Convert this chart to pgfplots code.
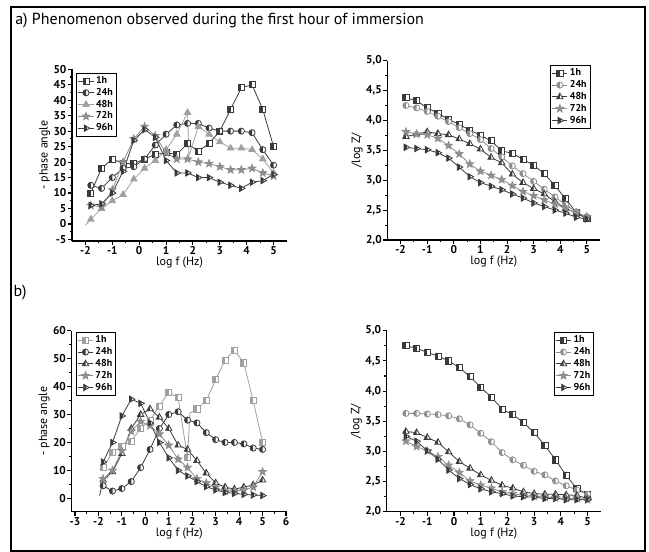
\documentclass[border=0pt]{standalone}
\usepackage{fontspec}
\setmainfont{PT Sans}
\usepackage{pgfplots}
\pgfplotsset{compat=1.18}
\definecolor{dk}{HTML}{3A3A3A}
\definecolor{gr}{HTML}{8E8E8E}
\definecolor{lg}{HTML}{A0A0A0}

\pgfdeclareplotmark{hsquare}{%
  \pgfpathrectangle{\pgfqpoint{-\pgfplotmarksize}{-\pgfplotmarksize}}{\pgfqpoint{2\pgfplotmarksize}{2\pgfplotmarksize}}%
  \pgfusepathqfill
  \begin{pgfscope}\pgfsetfillcolor{.}%
  \pgfpathrectangle{\pgfqpoint{-\pgfplotmarksize}{-\pgfplotmarksize}}{\pgfqpoint{\pgfplotmarksize}{2\pgfplotmarksize}}%
  \pgfusepathqfill\end{pgfscope}%
  \pgfpathrectangle{\pgfqpoint{-\pgfplotmarksize}{-\pgfplotmarksize}}{\pgfqpoint{2\pgfplotmarksize}{2\pgfplotmarksize}}%
  \pgfusepathqstroke}
\pgfdeclareplotmark{hcircle}{%
  \pgfpathcircle{\pgfpointorigin}{\pgfplotmarksize}\pgfusepathqfill
  \begin{pgfscope}\pgfsetfillcolor{.}%
  \pgfpathmoveto{\pgfqpoint{0pt}{\pgfplotmarksize}}\pgfpatharc{90}{270}{\pgfplotmarksize}\pgfpathclose
  \pgfusepathqfill\end{pgfscope}%
  \pgfpathcircle{\pgfpointorigin}{\pgfplotmarksize}\pgfusepathqstroke}
\pgfdeclareplotmark{htri}{%
  \pgfpathmoveto{\pgfpointpolar{90}{1.2\pgfplotmarksize}}%
  \pgfpathlineto{\pgfpointpolar{210}{1.2\pgfplotmarksize}}%
  \pgfpathlineto{\pgfpointpolar{330}{1.2\pgfplotmarksize}}\pgfpathclose
  \pgfusepathqfill
  \begin{pgfscope}\pgfsetfillcolor{.}%
  \pgfpathmoveto{\pgfpointpolar{90}{1.2\pgfplotmarksize}}%
  \pgfpathlineto{\pgfpointpolar{210}{1.2\pgfplotmarksize}}%
  \pgfpathlineto{\pgfpoint{0pt}{-0.6\pgfplotmarksize}}\pgfpathclose
  \pgfusepathqfill\end{pgfscope}%
  \pgfpathmoveto{\pgfpointpolar{90}{1.2\pgfplotmarksize}}%
  \pgfpathlineto{\pgfpointpolar{210}{1.2\pgfplotmarksize}}%
  \pgfpathlineto{\pgfpointpolar{330}{1.2\pgfplotmarksize}}\pgfpathclose
  \pgfusepathqstroke}
\pgfdeclareplotmark{hrtri}{%
  \pgfpathmoveto{\pgfpointpolar{0}{1.2\pgfplotmarksize}}%
  \pgfpathlineto{\pgfpointpolar{120}{1.2\pgfplotmarksize}}%
  \pgfpathlineto{\pgfpointpolar{240}{1.2\pgfplotmarksize}}\pgfpathclose
  \pgfusepathqfill
  \begin{pgfscope}\pgfsetfillcolor{.}%
  \pgfpathmoveto{\pgfpointpolar{120}{1.2\pgfplotmarksize}}%
  \pgfpathlineto{\pgfpoint{0.3\pgfplotmarksize}{0.52\pgfplotmarksize}}%
  \pgfpathlineto{\pgfpoint{0.3\pgfplotmarksize}{-0.52\pgfplotmarksize}}%
  \pgfpathlineto{\pgfpointpolar{240}{1.2\pgfplotmarksize}}\pgfpathclose
  \pgfusepathqfill\end{pgfscope}%
  \pgfpathmoveto{\pgfpointpolar{0}{1.2\pgfplotmarksize}}%
  \pgfpathlineto{\pgfpointpolar{120}{1.2\pgfplotmarksize}}%
  \pgfpathlineto{\pgfpointpolar{240}{1.2\pgfplotmarksize}}\pgfpathclose
  \pgfusepathqstroke}
\pgfdeclareplotmark{fstar}{%
  \pgfpathmoveto{\pgfpointpolar{90}{1.3\pgfplotmarksize}}%
  \pgfpathlineto{\pgfpointpolar{126}{0.55\pgfplotmarksize}}%
  \pgfpathlineto{\pgfpointpolar{162}{1.3\pgfplotmarksize}}%
  \pgfpathlineto{\pgfpointpolar{198}{0.55\pgfplotmarksize}}%
  \pgfpathlineto{\pgfpointpolar{234}{1.3\pgfplotmarksize}}%
  \pgfpathlineto{\pgfpointpolar{270}{0.55\pgfplotmarksize}}%
  \pgfpathlineto{\pgfpointpolar{306}{1.3\pgfplotmarksize}}%
  \pgfpathlineto{\pgfpointpolar{342}{0.55\pgfplotmarksize}}%
  \pgfpathlineto{\pgfpointpolar{18}{1.3\pgfplotmarksize}}%
  \pgfpathlineto{\pgfpointpolar{54}{0.55\pgfplotmarksize}}\pgfpathclose
  \pgfusepathqfillstroke}

\pgfplotsset{
  myax/.style={
    scale only axis,
    axis lines=left,
    axis line style={-, line width=1pt, black},
    tick align=outside,
    major tick length=3pt, minor tick length=1.8pt,
    tick style={line width=0.8pt, black},
    minor tick num=1,
    /pgf/number format/assume math mode=true,
    ticklabel style={font=\bfseries\fontsize{8.5}{9}\selectfont, inner sep=1pt},
    label style={font=\fontsize{9}{10}\selectfont},
    xlabel={log f (Hz)},
    xlabel style={yshift=3pt},
    ylabel style={yshift=-2pt},
    every axis plot/.append style={line width=0.6pt, mark size=2.3pt},
    legend cell align=left,
    legend style={draw=black, line width=0.6pt, fill=white,
      font=\bfseries\fontsize{7.5}{8}\selectfont, inner sep=1pt, row sep=-1pt,
      nodes={inner sep=1.5pt}},
    legend image code/.code={\draw[##1, mark indices={2}] plot coordinates {(0cm,0cm) (0.2cm,0cm) (0.4cm,0cm)};},
  },
  sq/.style={color=#1, mark=hsquare, mark options={fill=white, solid}},
  ci/.style={color=#1, mark=hcircle, mark options={fill=white, solid}},
  tr/.style={color=#1, mark=htri, mark options={fill=white, solid}},
  rt/.style={color=#1, mark=hrtri, mark options={fill=white, solid}},
  st/.style={color=#1, mark=fstar, mark options={fill=#1, solid}},
  zlabels/.style={yticklabel style={/pgf/number format/.cd, use comma, fixed, fixed zerofill, precision=1}},
}

\begin{document}
\begin{tikzpicture}
\path[use as bounding box] (0,0) rectangle (486.75pt,414pt);
\draw[line width=1.5pt] (8.25pt,408.75pt) rectangle (483.75pt,0.75pt);
\node[anchor=base west, inner sep=0, font=\fontsize{12}{14}\selectfont] at (11.25pt,395.25pt) {a) Phenomenon observed during the first hour of immersion};
\node[anchor=base west, inner sep=0, font=\fontsize{12}{14}\selectfont] at (10pt,191.25pt) {b)};

% ---------- a) phase ----------
\begin{axis}[myax, at={(54pt,233.25pt)}, anchor=south west,
  width=161.25pt, height=128.8pt,
  xmin=-2.5, xmax=5.5, ymin=-5.5, ymax=50,
  xtick={-2,...,5}, ytick={-5,0,...,50},
  ylabel={- phase angle},
  legend style={at={(0.02,0.98)}, anchor=north west}]
\addplot[sq=dk] coordinates {(-1.8,10)(-1.4,18)(-1.0,21)(-0.6,19.5)(-0.2,19.5)(0.2,21)(0.6,22.5)(1.0,23)(1.4,22.5)(1.8,26)(2.2,23.5)(2.6,26)(3.0,30)(3.4,37)(3.8,44)(4.2,45)(4.6,37)(5.0,25)};
\addlegendentry{1h}
\addplot[ci=dk] coordinates {(-1.8,12.5)(-1.4,11.5)(-1.0,15)(-0.6,18)(-0.2,18.5)(0.2,21)(0.6,25.5)(1.0,29)(1.4,32)(1.8,32.5)(2.2,32.5)(2.6,31)(3.0,30)(3.4,30)(3.8,30)(4.2,29.5)(4.6,24)(5.0,19)};
\addlegendentry{24h}
\addplot[color=lg, mark=triangle*, mark size=2.8pt, mark options={fill=lg, solid}, mark indices={2,3,4,5,6,7,8,9,10,11,13,14,15,16,17,18,19,20}] coordinates {(-2,-0.4)(-1.8,1.5)(-1.4,5)(-1.0,7.5)(-0.6,9.5)(-0.2,14.5)(0.2,18)(0.6,20.5)(1.0,24)(1.4,29)(1.8,36)(1.85,22)(2.2,31.5)(2.6,29)(3.0,26.5)(3.4,24.5)(3.8,24.5)(4.2,24)(4.6,21)(5.0,16.5)};
\addlegendentry{48h}
\addplot[st=gr] coordinates {(-1.8,6)(-1.4,5.5)(-1.0,11)(-0.6,20)(-0.2,27.5)(0.2,31.5)(0.6,28.5)(1.0,23)(1.4,21)(1.8,21)(2.2,20)(2.6,19.5)(3.0,18.5)(3.4,17.5)(3.8,17.5)(4.2,18)(4.6,16.5)(5.0,15.5)};
\addlegendentry{72h}
\addplot[rt=dk] coordinates {(-1.8,6)(-1.4,6.5)(-1.0,10)(-0.6,17)(-0.2,27)(0.2,30.5)(0.6,28)(1.0,20.5)(1.4,16.5)(1.8,16.5)(2.2,15)(2.6,15)(3.0,13.5)(3.4,12.5)(3.8,11.5)(4.2,13.5)(4.6,14)(5.0,16)};
\addlegendentry{96h}
\end{axis}

% ---------- a) log Z ----------
\begin{axis}[myax, zlabels, at={(290.5pt,234pt)}, anchor=south west,
  width=159.6pt, height=134.5pt,
  xmin=-2.5, xmax=5.5, ymin=2, ymax=5,
  xtick={-2,...,5}, ytick={2,2.5,...,5},
  ylabel={/log Z/},
  legend style={at={(0.765,0.976)}, anchor=north west}]
\addplot[sq=dk] coordinates {(-1.8,4.38)(-1.4,4.33)(-1.0,4.21)(-0.6,4.12)(-0.2,4.02)(0.2,3.93)(0.6,3.84)(1.0,3.75)(1.4,3.66)(1.8,3.49)(2.2,3.45)(2.6,3.35)(3.0,3.25)(3.4,3.11)(3.8,2.91)(4.2,2.69)(4.6,2.46)(5.0,2.36)};
\addlegendentry{1h}
\addplot[ci=gr] coordinates {(-1.8,4.25)(-1.4,4.21)(-1.0,4.15)(-0.6,4.07)(-0.2,3.98)(0.2,3.88)(0.6,3.78)(1.0,3.68)(1.4,3.53)(1.8,3.39)(2.2,3.24)(2.6,3.11)(3.0,2.98)(3.4,2.85)(3.8,2.72)(4.2,2.59)(4.6,2.47)(5.0,2.39)};
\addlegendentry{24h}
\addplot[tr=dk] coordinates {(-1.8,3.73)(-1.4,3.77)(-1.0,3.81)(-0.6,3.78)(-0.2,3.76)(0.2,3.69)(0.6,3.61)(1.0,3.52)(1.4,3.38)(1.8,3.29)(2.2,3.10)(2.6,2.96)(3.0,2.86)(3.4,2.77)(3.8,2.64)(4.2,2.53)(4.6,2.45)(5.0,2.36)};
\addlegendentry{48h}
\addplot[st=gr] coordinates {(-1.8,3.81)(-1.4,3.77)(-1.0,3.76)(-0.6,3.70)(-0.2,3.58)(0.2,3.44)(0.6,3.27)(1.0,3.15)(1.4,3.08)(1.8,3.01)(2.2,2.91)(2.6,2.81)(3.0,2.74)(3.4,2.67)(3.8,2.60)(4.2,2.53)(4.6,2.45)(5.0,2.39)};
\addlegendentry{72h}
\addplot[rt=dk] coordinates {(-1.8,3.55)(-1.4,3.53)(-1.0,3.51)(-0.6,3.46)(-0.2,3.37)(0.2,3.22)(0.6,3.06)(1.0,2.96)(1.4,2.90)(1.8,2.84)(2.2,2.77)(2.6,2.70)(3.0,2.62)(3.4,2.56)(3.8,2.50)(4.2,2.45)(4.6,2.38)(5.0,2.35)};
\addlegendentry{96h}
\end{axis}

% ---------- b) phase ----------
\begin{axis}[myax, at={(53.6pt,30.2pt)}, anchor=south west,
  width=161.8pt, height=135.75pt,
  xmin=-3.15, xmax=6.05, ymin=-4.8, ymax=60,
  xtick={-3,...,6}, ytick={0,10,...,60},
  ylabel={- phase angle},
  legend style={at={(0.02,0.993)}, anchor=north west}]
\addplot[sq=lg, mark indices={1,2,3,4,5,6,7,8,9,10,12,13,14,15,16,17,18,19}] coordinates {(-1.8,11)(-1.4,16.5)(-1.0,18.5)(-0.6,20.5)(-0.2,25)(0.2,28)(0.6,33)(1.0,38)(1.4,36)(1.8,14.5)(1.9,30.5)(2.2,32)(2.6,35)(3.0,42.5)(3.4,49.5)(3.8,53)(4.2,48.5)(4.6,35)(5.0,20)};
\addlegendentry{1h}
\addplot[ci=dk] coordinates {(-1.8,4.5)(-1.4,2.6)(-1.0,3.5)(-0.6,6)(-0.2,11)(0.2,17.5)(0.6,25)(1.0,30)(1.4,31)(1.8,28)(2.2,27)(2.6,23.5)(3.0,21)(3.4,20)(3.8,20)(4.2,19.5)(4.6,18)(5.0,17.5)};
\addlegendentry{24h}
\addplot[tr=dk, mark indices={2,3,4,5,6,7,8,9,10,11,12,13,14,15,16,17,18,19}] coordinates {(-1.95,1)(-1.8,6.5)(-1.4,9.5)(-1.0,16)(-0.6,25)(-0.2,30)(0.2,32)(0.6,29)(1.0,25)(1.4,19)(1.8,17.5)(2.2,13.5)(2.6,9)(3.0,5.5)(3.4,4)(3.8,3.3)(4.2,4)(4.6,4.8)(5.0,6.5)};
\addlegendentry{48h}
\addplot[st=gr] coordinates {(-1.8,7)(-1.4,10)(-1.0,17)(-0.6,24)(-0.2,27.5)(0.2,26)(0.6,23)(1.0,19)(1.4,14)(1.8,11)(2.2,7)(2.6,5.5)(3.0,4)(3.4,2.5)(3.8,2.5)(4.2,3)(4.6,4)(5.0,9.5)};
\addlegendentry{72h}
\addplot[rt=dk] coordinates {(-1.8,13)(-1.4,20)(-1.0,29.5)(-0.6,35.5)(-0.2,34)(0.2,27)(0.6,20)(1.0,14.5)(1.4,10)(1.8,8)(2.2,6)(2.6,4.2)(3.0,3)(3.4,2.1)(3.8,1.8)(4.2,1.4)(4.6,1.2)(5.0,1)};
\addlegendentry{96h}
\end{axis}

% ---------- b) log Z ----------
\begin{axis}[myax, zlabels, at={(290pt,30.2pt)}, anchor=south west,
  width=160.7pt, height=135.75pt,
  xmin=-2.52, xmax=5.5, ymin=2, ymax=5,
  xtick={-2,...,5}, ytick={2,2.5,...,5},
  ylabel={/log Z/},
  legend style={at={(0.78,0.993)}, anchor=north west}]
\addplot[sq=dk] coordinates {(-1.8,4.75)(-1.4,4.71)(-1.0,4.64)(-0.6,4.58)(-0.2,4.50)(0.2,4.39)(0.6,4.24)(1.0,4.06)(1.4,3.90)(1.8,3.70)(2.2,3.61)(2.6,3.48)(3.0,3.31)(3.4,3.10)(3.8,2.86)(4.2,2.60)(4.6,2.38)(5.0,2.29)};
\addlegendentry{1h}
\addplot[ci=gr] coordinates {(-1.8,3.63)(-1.4,3.63)(-1.0,3.62)(-0.6,3.61)(-0.2,3.59)(0.2,3.54)(0.6,3.44)(1.0,3.30)(1.4,3.16)(1.8,2.98)(2.2,2.86)(2.6,2.77)(3.0,2.67)(3.4,2.61)(3.8,2.51)(4.2,2.43)(4.6,2.36)(5.0,2.29)};
\addlegendentry{24h}
\addplot[tr=dk] coordinates {(-1.8,3.33)(-1.4,3.31)(-1.0,3.23)(-0.6,3.15)(-0.2,2.99)(0.2,2.83)(0.6,2.72)(1.0,2.61)(1.4,2.52)(1.8,2.44)(2.2,2.39)(2.6,2.33)(3.0,2.30)(3.4,2.29)(3.8,2.29)(4.2,2.28)(4.6,2.27)(5.0,2.22)};
\addlegendentry{48h}
\addplot[st=gr] coordinates {(-1.8,3.17)(-1.4,3.08)(-1.0,3.01)(-0.6,2.91)(-0.2,2.77)(0.2,2.65)(0.6,2.51)(1.0,2.44)(1.4,2.39)(1.8,2.33)(2.2,2.30)(2.6,2.27)(3.0,2.26)(3.4,2.24)(3.8,2.23)(4.2,2.22)(4.6,2.22)(5.0,2.20)};
\addlegendentry{72h}
\addplot[rt=dk] coordinates {(-1.8,3.25)(-1.4,3.17)(-1.0,3.01)(-0.6,2.87)(-0.2,2.69)(0.2,2.55)(0.6,2.45)(1.0,2.38)(1.4,2.33)(1.8,2.30)(2.2,2.26)(2.6,2.25)(3.0,2.24)(3.4,2.22)(3.8,2.22)(4.2,2.20)(4.6,2.20)(5.0,2.20)};
\addlegendentry{96h}
\end{axis}
\end{tikzpicture}
\end{document}
